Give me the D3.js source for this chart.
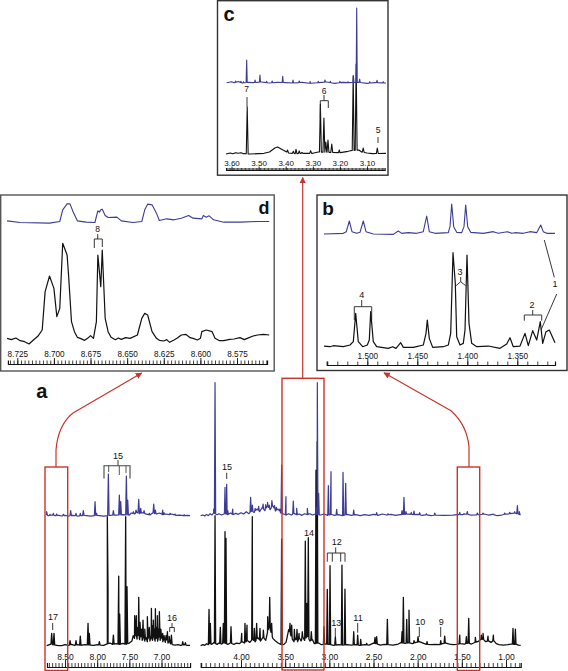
<!DOCTYPE html>
<html><head><meta charset="utf-8">
<script src="https://cdn.jsdelivr.net/npm/d3@7/dist/d3.min.js"></script>
<style>html,body{margin:0;background:#fff}svg{display:block}text{font-family:"Liberation Sans",Arial,sans-serif;fill:#111}</style>
</head><body><svg id="c" width="568" height="671"></svg>
<script>
// ---------- panel d (explicit traces) ----------
const dTickLabels=["8.725","8.700","8.675","8.650","8.625","8.600","8.575"];
const dBluePpm=[8.732,8.723,8.703,8.696,8.694,8.691,8.689,8.687,8.684,8.678,8.672,8.671,8.670,8.669,8.668,8.667,8.665,8.663,8.657,8.654,8.646,8.640,8.638,8.636,8.633,8.630,8.628,8.623,8.618,8.613,8.608,8.605,8.599,8.598,8.596,8.594,8.591,8.584,8.573,8.561,8.553];
const dBlueInt=[5,0,-2,3,38,56,56,33,5,1,0,18,35,31,38,40,21,15,16,5,0,3,38,55,53,28,6,11,8,13,21,13,11,21,16,20,8,1,1,3,3];
const dBlackPpm=[8.732,8.729,8.726,8.723,8.72,8.717,8.714,8.711,8.708,8.706,8.703,8.700,8.698,8.696,8.694,8.691,8.690,8.688,8.686,8.684,8.682,8.679,8.677,8.675,8.673,8.671,8.670,8.668,8.667,8.665,8.663,8.661,8.658,8.656,8.654,8.651,8.648,8.643,8.640,8.638,8.636,8.633,8.630,8.628,8.625,8.623,8.621,8.618,8.616,8.613,8.610,8.607,8.605,8.602,8.600,8.599,8.596,8.592,8.590,8.587,8.584,8.580,8.577,8.573,8.570,8.568,8.564,8.561,8.557,8.553];
const dBlackInt=[2,-2,3,-5,-8,-15,-3,8,27,142,189,152,67,92,287,252,192,52,22,5,2,-4,2,10,2,52,252,157,267,62,22,5,-2,3,-1,4,2,12,62,77,72,22,2,-4,-6,-2,-10,-3,2,12,14,4,2,-3,2,22,27,22,2,-5,-5,-1,0,4,-2,2,9,12,14,12];
// ---------- panel b (explicit traces) ----------
const bTickLabels=["1.500","1.450","1.400","1.350"];
const bBluePpm=[1.5433,1.524,1.521,1.518,1.5153,1.5106,1.5073,1.504,1.5013,1.494,1.474,1.469,1.4656,1.459,1.4506,1.444,1.4406,1.438,1.4323,1.419,1.4173,1.4156,1.4136,1.4106,1.4056,1.4033,1.4016,1.3996,1.3966,1.384,1.374,1.369,1.36,1.3556,1.3523,1.344,1.3373,1.3306,1.3266,1.324,1.3206,1.3123];
const bBlueInt=[0,2,7,39,7,2,5,39,7,0,-1,9,2,4,2,7,54,7,2,4,22,90,22,5,4,22,87,22,5,2,7,2,7,2,4,2,7,4,27,7,2,2];
const bBlackPpm=[1.5433,1.5373,1.534,1.524,1.5173,1.514,1.5116,1.509,1.5046,1.5,1.498,1.4966,1.494,1.4906,1.479,1.4746,1.4713,1.4666,1.464,1.454,1.444,1.4413,1.44,1.438,1.4346,1.424,1.419,1.4166,1.4143,1.412,1.4106,1.4073,1.404,1.4023,1.4003,1.3983,1.3956,1.3906,1.379,1.3673,1.3606,1.3573,1.354,1.3473,1.3423,1.339,1.3346,1.3306,1.327,1.3246,1.3213,1.318,1.3123];
const bBlackInt=[2,0,3,0,5,15,100,15,0,5,20,105,15,0,-5,0,-5,12,-2,-2,5,40,80,25,-2,0,5,40,282,190,30,5,10,50,275,70,10,0,2,-5,8,27,0,2,40,3,48,20,75,10,45,50,12];
// ---------- panel c (peak lists) ----------
const cTickLabels=["3.60","3.50","3.40","3.30","3.20","3.10"];
const cBluePeakPpm=[3.585,3.575,3.565,3.556,3.544,3.513,3.495,3.47,3.45,3.411,3.373,3.35,3.31,3.28,3.255,3.235,3.2,3.17,3.15,3.138,3.127,3.09,3.063,3.04];
const cBluePeakInt=[6,5,5,4,69,9,24,5,6,20,9,6,5,5,9,5,5,4,21,225,12,4,8,4];
const cBlueBasePpm=[3.618,3.6,3.59,3.575,3.56,3.54,3.52,3.49,3.46,3.43,3.4,3.37,3.34,3.31,3.28,3.25,3.22,3.19,3.17,3.13,3.1,3.07,3.03];
const cBlueBaseInt=[1,4,1,4,0,2,1,3,0,2,1,0,2,-1,1,3,-1,2,1,2,-1,1,0];
const cBlackPeakPpm=[3.542,3.393,3.372,3.362,3.35,3.34,3.308,3.272,3.259,3.252,3.244,3.23,3.202,3.151,3.14,3.114,3.062];
const cBlackPeakInt=[141,12,8,14,9,5,10,150,108,36,42,30,12,235,270,18,18];
const cBlackBasePpm=[3.62,3.605,3.595,3.585,3.575,3.565,3.555,3.53,3.5,3.48,3.46,3.44,3.43,3.41,3.39,3.365,3.33,3.3,3.28,3.2,3.17,3.16,3.13,3.12,3.1,3.08,3.03];
const cBlackBaseInt=[0,3,1,4,2,4,1,0,1,2,6,18,21,12,3,1,2,2,6,4,8,10,12,6,3,1,2];
// ---------- panel a, aromatic region ----------
const aLeftTickLabels=["8.50","8.00","7.50","7.00"];
const aLBluePeakPpm=[8.785,8.733,8.681,8.630,8.526,8.412,8.329,8.262,8.215,8.033,8.008,7.826,7.748,7.655,7.634,7.546,7.525,7.437,7.396,7.354,7.323,7.271,7.189,7.121,7.095,6.981,6.961,6.867,6.789,6.649];
const aLBluePeakInt=[12,4,7,5,4,15,7,7,15,42,7,125,15,62,42,119,47,12,17,49,22,15,7,35,17,17,9,7,5,3];
const aLBlueBasePpm=[8.785,8.76,8.7,8.65,8.6,8.55,8.5,8.45,8.38,8.3,8.2,8.1,8,7.9,7.8,7.7,7.6,7.5,7.47,7.42,7.38,7.34,7.3,7.26,7.22,7.18,7.14,7.08,7.03,6.98,6.93,6.88,6.84,6.78,6.72,6.65,6.6,6.556];
const aLBlueBaseInt=[3,0,2,0,1,-1,1,-1,1,-1,1,-1,1,-1,1,2,3,2,8,5,10,6,9,6,4,2,8,5,8,3,5,3,5,1,2,0,1,0];
const aLBlackPeakPpm=[8.707,8.671,8.422,8.329,8.262,8.142,8.122,7.966,7.842,7.831,7.748,7.665,7.65,7.557,7.536,7.417,7.40,7.391,7.375,7.354,7.334,7.31,7.287,7.26,7.220,7.19,7.157,7.14,7.126,7.11,7.095,7.08,7.064,7.05,7.033,7.01,6.981,6.96,6.93,6.908,6.88,6.846,6.670,6.629];
const aLBlackPeakInt=[37,37,15,15,29,67,37,12,387,170,32,209,95,387,177,90,60,90,55,145,70,50,77,50,87,55,112,60,77,50,111,55,90,50,102,50,37,30,30,42,28,32,12,9];
const aLBlackBasePpm=[8.785,8.76,8.72,8.69,8.65,8.6,8.55,8.5,8.45,8.40,8.35,8.3,8.25,8.2,8.1,8.05,8,7.95,7.9,7.85,7.8,7.76,7.7,7.65,7.6,7.55,7.5,7.46,7.44,7.42,7.4,7.38,7.36,7.34,7.32,7.3,7.28,7.26,7.24,7.22,7.2,7.18,7.16,7.14,7.12,7.1,7.08,7.06,7.04,7.02,7,6.98,6.96,6.94,6.92,6.9,6.88,6.86,6.83,6.79,6.74,6.7,6.65,6.6,6.556];
const aLBlackBaseInt=[0,2,5,3,2,0,0,3,1,4,1,3,1,3,2,1,3,2,1,5,8,4,6,4,7,4,8,14,30,22,38,20,34,18,28,16,26,14,24,12,28,14,30,16,32,14,30,14,28,16,26,12,24,10,18,8,14,6,3,2,3,1,3,1,1];
// ---------- panel a, aliphatic region ----------
const aMidTickLabels=["4.00","3.50","3.00","2.50","2.00","1.50","1.00"];
const aMBluePeakPpm=[4.309,4.294,4.181,4.162,4.150,4.094,3.891,3.871,3.84,3.8,3.75,3.72,3.7,3.68,3.65,3.62,3.6,3.56,3.540,3.491,3.408,3.37,3.249,3.145,3.136,3.121,3.011,2.981,2.917,2.845,2.815,2.724,2.464,2.336,2.177,2.155,2.132,2.072,2.041,1.977,1.902,1.807,1.524,1.475,1.438,1.324,1.26,1.147,1.015,0.958,0.902,0.871,0.849];
const aMBluePeakInt=[20,399,85,94,15,20,55,32,22,28,35,33,40,32,45,30,25,20,152,57,44,22,22,25,399,67,90,132,19,130,97,17,9,6,15,55,12,10,14,9,6,8,10,6,12,8,8,5,8,10,12,30,12];
const aMBlueBasePpm=[4.457,4.43,4.41,4.39,4.37,4.35,4.33,4.31,4.27,4.25,4.22,4.18,4.15,4.12,4.09,4.06,4.03,4,3.97,3.94,3.91,3.88,3.85,3.82,3.79,3.76,3.73,3.70,3.67,3.64,3.61,3.58,3.55,3.52,3.49,3.46,3.43,3.40,3.37,3.34,3.31,3.28,3.25,3.22,3.19,3.16,3.1,3.06,3.02,2.98,2.94,2.9,2.85,2.8,2.75,2.7,2.65,2.6,2.55,2.5,2.45,2.4,2.35,2.3,2.25,2.2,2.1,2.05,2,1.95,1.9,1.85,1.8,1.7,1.6,1.55,1.5,1.45,1.4,1.3,1.25,1.2,1.15,1.1,1.05,1,0.95,0.9,0.85,0.834];
const aMBlueBaseInt=[0,2,-1,4,0,6,2,8,3,6,2,7,3,8,3,7,4,9,5,12,6,14,10,20,12,24,15,30,18,30,14,20,8,5,2,6,2,7,3,5,1,6,3,6,2,5,2,5,1,4,1,3,0,4,1,3,0,3,1,4,1,5,2,4,1,3,5,3,4,1,3,0,2,1,2,3,3,5,2,3,5,2,4,0,2,5,6,8,4,2];
const aMBlackPeakPpm=[4.362,4.347,4.294,4.234,4.200,4.181,4.170,4.113,3.992,3.955,3.932,3.872,3.849,3.823,3.785,3.747,3.698,3.675,3.653,3.540,3.445,3.426,3.396,3.366,3.343,3.306,3.272,3.253,3.238,3.204,3.151,3.137,3.06,3.023,2.992,2.932,2.857,2.823,2.724,2.679,2.645,2.577,2.483,2.464,2.343,2.177,2.162,2.124,2.098,2.041,1.996,1.894,1.739,1.694,1.524,1.449,1.422,1.347,1.279,1.26,1.204,1.143,0.921,0.894];
const aMBlackPeakInt=[109,67,390,55,67,342,322,57,37,67,62,387,52,67,52,47,87,145,67,320,67,62,49,49,37,42,314,127,324,42,527,612,57,169,240,27,242,170,42,32,19,7,25,27,79,42,145,79,107,15,27,12,15,29,32,27,82,25,32,37,29,32,52,50];
const aMBlackBasePpm=[4.457,4.43,4.41,4.39,4.37,4.35,4.33,4.31,4.27,4.25,4.22,4.19,4.15,4.12,4.08,4.05,4.02,3.99,3.96,3.93,3.9,3.87,3.84,3.81,3.78,3.75,3.72,3.70,3.68,3.66,3.64,3.61,3.58,3.55,3.52,3.49,3.46,3.44,3.42,3.40,3.38,3.36,3.34,3.32,3.30,3.28,3.25,3.22,3.19,3.17,3.12,3.09,3.05,3.0,2.95,2.9,2.85,2.8,2.75,2.7,2.65,2.6,2.55,2.5,2.47,2.42,2.38,2.33,2.28,2.22,2.19,2.14,2.1,2.06,2.02,1.98,1.94,1.9,1.85,1.8,1.75,1.72,1.68,1.64,1.6,1.56,1.52,1.47,1.43,1.39,1.35,1.32,1.29,1.26,1.23,1.2,1.17,1.14,1.11,1.08,1.03,0.98,0.94,0.91,0.88,0.86,0.834];
const aMBlackBaseInt=[0,3,1,6,3,7,4,9,4,8,5,9,4,8,4,8,6,12,8,16,10,20,12,24,14,26,16,40,58,40,22,14,8,4,3,10,48,34,20,12,22,12,24,14,26,16,30,14,18,6,8,3,5,4,1,3,2,3,2,3,1,3,2,8,6,2,4,3,2,5,9,7,9,6,10,12,8,4,3,4,3,6,8,5,3,4,6,5,8,5,10,12,18,20,12,15,10,16,6,3,2,3,5,4,4,2,1];

const svg=d3.select("#c");
const BLUE="#3c3c96",RED="#c9352c";

function stickTrace(pp,ii,bp,bi,w){
  const base=d3.scaleLinear().domain(bp).range(bi);
  const rows=bp.map((p,i)=>[p,bi[i]]);
  pp.forEach((p,i)=>{rows.push([p+w,base(p+w)],[p,ii[i]],[p-w,base(p-w)]);});
  return rows.sort((a,b)=>b[0]-a[0]);
}
const zip=(a,b)=>a.map((v,i)=>[v,b[i]]);
function drawTrace(rows,x,y,color,sw){
  const line=d3.line().x(d=>x(d[0])).y(d=>y(d[1]));
  svg.append("path").attr("d",line(rows)).attr("fill","none").attr("stroke",color).attr("stroke-width",sw).attr("stroke-linejoin","round");
}
function drawAxis(x,yPos,labels,fmt,minorStart,minorEnd,step,minorLen,majorLen,pad,fs){
  const n=Math.round((minorStart-minorEnd)/step);
  const minor=d3.range(n+1).map(i=>minorStart-i*step);
  const gm=svg.append("g").attr("transform",`translate(0,${yPos})`)
    .call(d3.axisTop(x).tickValues(minor).tickSize(minorLen).tickFormat(""));
  gm.selectAll("line").attr("stroke","#111").attr("stroke-width",.8);
  gm.select(".domain").attr("stroke","#111").attr("stroke-width",1.2);
  const g=svg.append("g").attr("transform",`translate(0,${yPos})`)
    .call(d3.axisTop(x).tickValues(labels.map(Number)).tickSize(majorLen).tickPadding(pad).tickFormat(d3.format(fmt)));
  g.select(".domain").remove();
  g.selectAll("line").attr("stroke","#111").attr("stroke-width",.9);
  g.selectAll("text").attr("font-size",fs).attr("fill","#111").attr("font-family",'"Liberation Sans",Arial,sans-serif');
}
const yScale=(base,k)=>d3.scaleLinear().domain([0,300]).range([base,base-300*k]);
function box(x,y,w,h,c){svg.append("rect").attr("x",x).attr("y",y).attr("width",w).attr("height",h).attr("fill","none").attr("stroke",c).attr("stroke-width",1.4);}
function txt(s,x,y,fs,bold){svg.append("text").attr("x",x).attr("y",y).attr("text-anchor","middle").attr("dominant-baseline","central").attr("font-size",fs).attr("font-weight",bold?"bold":"normal").text(s);}
function seg(pts,c="#222",sw=.9){svg.append("path").attr("d",d3.line()(pts)).attr("fill","none").attr("stroke",c).attr("stroke-width",sw);}

// Panel boxes
box(217.5,0.7,170.5,174.5,"#333");
box(0.7,195,273.5,176,"#555");
box(317,195,250,175.5,"#333");

// Panel d
const xd=d3.scaleLinear().domain([8.725,8.575]).range([17.3,237]);
const xdAxis=xd.copy().domain([8.7314,8.5545]).range([xd(8.7314),xd(8.5545)]);
drawTrace(zip(dBlackPpm,dBlackInt),xd,yScale(339,1/3),"#111",1.2);
drawTrace(zip(dBluePpm,dBlueInt),xd,yScale(222.5,1/3),BLUE,1.1);
drawAxis(xdAxis,364,dTickLabels,".3f",8.73,8.555,.0025,3.5,6,1,8.2);

// Panel b
const xb=d3.scaleLinear().domain([1.5,1.35]).range([367.3,517.3]);
const xbAxis=xb.copy().domain([1.5406,1.3123]).range([xb(1.5406),xb(1.3123)]);
drawTrace(zip(bBlackPpm,bBlackInt),xb,yScale(346.7,1/3),"#111",1.2);
drawTrace(zip(bBluePpm,bBlueInt),xb,yScale(234,1/3),BLUE,1.1);
drawAxis(xbAxis,365,bTickLabels,".3f",1.54,1.32,.01,3.5,6,0,8.2);

// Panel c
const xc=d3.scaleLinear().domain([3.6,3.1]).range([231.5,367]);
const xcAxis=xc.copy().domain([3.62,3.035]).range([xc(3.62),xc(3.035)]);
drawTrace(stickTrace(cBlackPeakPpm,cBlackPeakInt,cBlackBasePpm,cBlackBaseInt,.0035),xc,yScale(154,1/3),"#111",1.1);
drawTrace(stickTrace(cBluePeakPpm,cBluePeakInt,cBlueBasePpm,cBlueBaseInt,.002),xc,yScale(83,1/3),BLUE,1.1);
drawAxis(xcAxis,170,cTickLabels,".2f",3.615,3.04,.005,2,3.5,0.5,8);

// Panel a
const xal=d3.scaleLinear().domain([8.5,7]).range([65,161.5]);
const xalAxis=xal.copy().domain([8.78,6.556]).range([xal(8.78),xal(6.556)]);
const xam=d3.scaleLinear().domain([4,1]).range([241,506]);
const xamAxis=xam.copy().domain([4.456,.8333]).range([xam(4.456),xam(.8333)]);
drawTrace(stickTrace(aLBlackPeakPpm,aLBlackPeakInt,aLBlackBasePpm,aLBlackBaseInt,.011),xal,yScale(645.7,1/3),"#111",1.3);
drawTrace(stickTrace(aMBlackPeakPpm,aMBlackPeakInt,aMBlackBasePpm,aMBlackBaseInt,.007),xam,yScale(645.7,1/3),"#111",1.3);
drawTrace(stickTrace(aLBluePeakPpm,aLBluePeakInt,aLBlueBasePpm,aLBlueBaseInt,.011),xal,yScale(515.7,1/3),BLUE,1.2);
drawTrace(stickTrace(aMBluePeakPpm,aMBluePeakInt,aMBlueBasePpm,aMBlueBaseInt,.007),xam,yScale(515.7,1/3),BLUE,1.2);
drawAxis(xalAxis,667,aLeftTickLabels,".2f",8.75,6.6,.05,4,7,0,8.5);
drawAxis(xamAxis,667,aMidTickLabels,".2f",4.45,.85,.05,4,7,0,8.5);

// Red selection boxes and arrows
const defs=svg.append("defs");
defs.append("marker").attr("id","ah").attr("viewBox","0 0 10 10").attr("refX",9).attr("refY",5).attr("markerWidth",6.5).attr("markerHeight",6.5).attr("markerUnits","userSpaceOnUse").attr("orient","auto")
  .append("path").attr("d","M0,0L10,5L0,10Z").attr("fill",RED);
[[45,467,22.7,203.5],[282,378.3,42,291.7],[457.3,467,22.4,203.5]].forEach(b=>box(b[0],b[1],b[2],b[3],RED));
const arrow=d=>svg.append("path").attr("d",d).attr("fill","none").attr("stroke",RED).attr("stroke-width",1.2).attr("marker-end","url(#ah)");
let p=d3.path();p.moveTo(56,467);p.lineTo(56,450);p.quadraticCurveTo(58,425,73,413);p.lineTo(141.7,373);arrow(p.toString());
p=d3.path();p.moveTo(469,467);p.lineTo(469,447);p.quadraticCurveTo(467,425,451,410.7);p.lineTo(384,372.7);arrow(p.toString());
p=d3.path();p.moveTo(302.7,378.3);p.lineTo(302.7,177.5);arrow(p.toString());

// Panel letters
txt("a",41.7,391,20,true);txt("b",328,208,19,true);txt("c",229,14,20,true);txt("d",264,208,18,true);

// Annotations, panel c
txt("7",246.7,88.5,8.5);seg([[247,97],[247,107]]);
txt("6",324,90.5,8.5);seg([[324,95],[324,100.7]]);seg([[320.3,118],[320.3,100.7],[328.3,100.7],[328.3,108]]);
txt("5",378,130,8.5);seg([[378,137],[378,143]]);
// Panel d
txt("8",97.7,229.3,8.5);seg([[97.7,234],[97.7,239]]);seg([[94.3,248],[94.3,239],[102.3,239],[102.3,247]]);
// Panel b
txt("4",361.7,295,9);seg([[361.7,300],[361.7,306.7]]);seg([[354.3,320],[354.3,306.7],[371.7,306.7],[371.7,320]]);
txt("3",460,271.7,9);seg([[460.7,277],[460.7,281.7]]);seg([[456,285.7],[460.7,281.7],[465.7,285.7]]);
txt("2",532,305,9);seg([[532.7,310],[532.7,315]]);seg([[524.3,320.7],[524.3,315],[541.7,315],[541.7,320.7]]);
txt("1",555,284.3,9);seg([[544.3,240],[554.3,277.3]]);seg([[556.7,294],[541,330]]);
// Panel a, left
txt("15",118,456,9);seg([[118,460],[118,465.7]]);seg([[104,478.5],[104,465.7],[130,465.7],[130,478.5]],"#444",1.1);
seg([[108.7,465.7],[108.7,472]],"#444");seg([[119.3,466],[119.3,475]],"#444");seg([[126,466],[126,473]],"#444");
txt("17",53,617,9);seg([[52.7,623],[52.7,630]]);
txt("16",172,618,9);seg([[172,623],[172,627.5]]);seg([[169.7,632],[169.7,627.5],[174.3,627.5],[174.3,632]]);
// Panel a, middle and right
txt("15",227,466.7,9);seg([[226.7,472.7],[226.7,479]]);
txt("14",309,533,9);
txt("12",336.7,542,9);seg([[335.7,547.3],[335.7,553]]);seg([[327.3,561.7],[327.3,553],[345,553],[345,561.7]]);seg([[332.3,553],[332.3,561.7]]);seg([[340.7,553],[340.7,561.7]]);
txt("13",336.3,622.7,9);seg([[335.3,628],[335.3,636]]);
txt("11",358,617.7,9);seg([[357.7,623],[357.7,632.7]]);
txt("10",420.3,621.7,9);seg([[419.3,627],[419.3,637]]);
txt("9",441.3,622.3,9);seg([[440.7,627],[440.7,637]]);
</script></body></html>
